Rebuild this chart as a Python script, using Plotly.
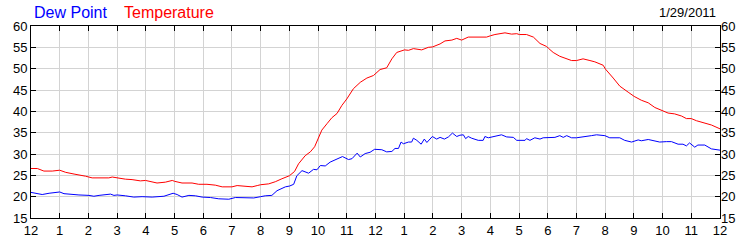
import plotly.graph_objects as go

# hours since midnight
temp_hours = [0.00, 0.22, 0.45, 0.74, 1.00, 1.21, 1.50, 1.73, 1.90, 2.13, 2.48, 2.71, 2.83, 3.00, 3.29, 3.52, 3.81, 3.99, 4.16, 4.39, 4.68, 4.92, 5.00, 5.26, 5.61, 5.84, 6.13, 6.42, 6.66, 7.00, 7.18, 7.47, 7.70, 7.88,
              8.00, 8.28, 8.51, 8.74, 9.00, 9.18, 9.32, 9.55, 9.73, 9.88, 10.02, 10.13, 10.31, 10.48, 10.66, 10.83, 11.00, 11.23, 11.47, 11.70, 11.93, 12.01, 12.16, 12.39, 12.57, 12.74, 13.01, 13.15, 13.32, 13.61, 13.84, 13.99, 14.25, 14.42, 14.66, 14.83, 15.00, 15.23, 15.47, 15.70, 15.87,
              16.00, 16.16, 16.51, 16.74, 16.92, 17.01, 17.26, 17.50, 17.73, 17.96, 18.02, 18.19, 18.42, 18.66, 18.83, 19.00, 19.23, 19.47, 19.64, 19.93, 20.01, 20.28, 20.51, 20.80, 21.01, 21.26, 21.50, 21.73, 21.99, 22.19, 22.42, 22.66, 22.83, 23.00, 23.18, 23.47, 23.70, 24.00]
temp_vals = [26.6, 26.6, 26.0, 26.0, 26.2, 25.7, 25.3, 25.1, 24.8, 24.4, 24.4, 24.4, 24.6, 24.4, 24.1, 24.0, 23.7, 23.8, 23.6, 23.2, 23.4, 23.8, 23.6, 23.2, 23.2, 22.9, 22.9, 22.7, 22.3, 22.3, 22.6, 22.5, 22.3, 22.6,
             22.8, 23.0, 23.5, 24.2, 24.9, 25.9, 27.7, 29.6, 30.5, 31.7, 33.8, 35.6, 37.1, 38.5, 39.5, 41.4, 42.9, 45.3, 46.8, 47.8, 48.4, 48.9, 49.8, 50.2, 52.3, 53.8, 54.4, 54.3, 54.7, 54.4, 55.0, 55.1, 55.8, 56.5, 56.7, 57.1, 56.7, 57.4, 57.4, 57.3, 57.4,
             57.7, 58.0, 58.4, 58.1, 58.2, 58.0, 58.0, 57.4, 55.9, 55.2, 54.8, 53.8, 52.9, 52.3, 51.9, 51.9, 52.3, 51.9, 51.6, 50.8, 49.9, 47.8, 45.9, 44.5, 43.5, 42.6, 42.0, 40.9, 40.2, 39.6, 39.4, 38.9, 38.3, 38.3, 37.8, 37.3, 36.8, 35.9]

dew_hours = [0.00, 0.22, 0.39, 0.63, 0.86, 1.00, 1.15, 1.44, 1.67, 2.02, 2.19, 2.37, 2.66, 2.77, 2.89, 3.00, 3.29, 3.58, 3.87, 4.22, 4.63, 4.80, 4.95, 5.09, 5.26, 5.50, 5.73, 5.96, 6.25, 6.54, 6.89, 7.12, 7.41, 7.76,
             8.00, 8.16, 8.39, 8.57, 8.86, 9.01, 9.15, 9.26, 9.44, 9.67, 9.84, 9.96, 10.08, 10.25, 10.42, 10.66, 10.85, 11.06, 11.18, 11.36, 11.47, 11.64, 11.81, 11.97, 12.22, 12.39, 12.57, 12.68, 12.80, 12.89, 12.97, 13.15, 13.26, 13.32, 13.44, 13.59, 13.70, 13.79, 13.98, 14.13, 14.25, 14.40, 14.54, 14.68, 14.83, 14.94, 15.06, 15.14, 15.23, 15.35, 15.58, 15.75, 15.81, 15.93,
             16.00, 16.16, 16.39, 16.57, 16.80, 16.92, 17.01, 17.21, 17.26, 17.38, 17.55, 17.73, 17.84, 18.02, 18.25, 18.42, 18.54, 18.66, 18.83, 19.00, 19.29, 19.52, 19.70, 19.99, 20.16, 20.51, 20.68, 20.92, 21.15, 21.26, 21.50, 21.73, 21.90, 22.13, 22.31, 22.54, 22.71, 22.83, 22.94, 23.12, 23.23, 23.47, 23.70, 24.00]
dew_vals = [21.0, 20.8, 20.5, 20.8, 20.9, 21.1, 20.7, 20.5, 20.4, 20.3, 20.1, 20.3, 20.4, 20.6, 20.3, 20.4, 20.2, 19.9, 20.0, 19.9, 20.1, 20.5, 20.8, 20.5, 19.9, 20.3, 20.2, 19.9, 19.8, 19.5, 19.4, 19.8, 19.7, 19.7,
            20.0, 20.2, 20.3, 21.4, 22.3, 22.5, 22.9, 24.9, 26.1, 25.5, 26.4, 26.3, 27.3, 27.2, 28.1, 28.8, 29.4, 28.7, 28.9, 30.2, 29.3, 30.1, 30.4, 31.1, 31.0, 30.5, 30.6, 31.3, 31.3, 32.8, 32.4, 32.8, 32.8, 33.7, 33.2, 32.3, 33.5, 32.7, 34.1, 33.5, 33.9, 33.5, 34.0, 34.9, 34.1, 34.4, 34.5, 33.6, 34.1, 33.7, 33.2, 33.2, 34.1, 33.8,
            33.9, 34.1, 34.5, 34.0, 33.9, 33.2, 33.2, 33.2, 33.6, 33.2, 33.8, 33.5, 33.8, 33.9, 33.9, 34.3, 33.9, 34.3, 33.8, 33.8, 34.0, 34.3, 34.5, 34.3, 33.8, 33.8, 33.2, 32.8, 33.3, 33.1, 33.4, 33.1, 32.8, 32.9, 32.9, 32.3, 32.3, 31.9, 32.6, 31.6, 32.1, 32.1, 31.2, 30.9]

x_tickvals = list(range(0, 25))
x_ticktext = ["12", "1", "2", "3", "4", "5", "6", "7", "8", "9", "10", "11",
              "12", "1", "2", "3", "4", "5", "6", "7", "8", "9", "10", "11", "12"]
y_tickvals = [15, 20, 25, 30, 35, 40, 45, 50, 55, 60]
date_label = "1/29/2011"
series_names = ["Dew Point", "Temperature"]

FONT = "Arial, Liberation Sans, sans-serif"
TXT = "#000000"
GRID = "#d3d3d3"
TICK_SIZE = 13

fig = go.Figure()
fig.add_trace(go.Scatter(x=dew_hours, y=dew_vals, mode="lines", name=series_names[0],
                         line=dict(color="#0000ff", width=1), hoverinfo="skip"))
fig.add_trace(go.Scatter(x=temp_hours, y=temp_vals, mode="lines", name=series_names[1],
                         line=dict(color="#ff0000", width=1), hoverinfo="skip"))
# invisible trace to activate right-hand axis
fig.add_trace(go.Scatter(x=[0], y=[15], yaxis="y2", mode="markers",
                         marker=dict(opacity=0), showlegend=False, hoverinfo="skip"))

fig.update_layout(
    width=750, height=250,
    margin=dict(l=31, r=30, t=26, b=26),
    paper_bgcolor="white", plot_bgcolor="white",
    showlegend=False,
    font=dict(family=FONT, size=TICK_SIZE, color=TXT),
    xaxis=dict(range=[0, 24], tickvals=x_tickvals, ticktext=x_ticktext,
               showgrid=True, gridcolor=GRID, gridwidth=1,
               showline=True, linecolor="black", linewidth=1, mirror="ticks",
               ticks="inside", ticklen=5, tickcolor="black",
               tickfont=dict(family=FONT, size=TICK_SIZE, color=TXT),
               zeroline=False, fixedrange=True),
    yaxis=dict(range=[15, 60], tickvals=y_tickvals,
               showgrid=True, gridcolor=GRID, gridwidth=1,
               showline=True, linecolor="black", linewidth=1, mirror="ticks",
               ticks="inside", ticklen=5, tickcolor="black",
               tickfont=dict(family=FONT, size=TICK_SIZE, color=TXT),
               zeroline=False, fixedrange=True),
    yaxis2=dict(range=[15, 60], tickvals=y_tickvals, overlaying="y", side="right",
                showgrid=False, showline=False, ticks="",
                tickfont=dict(family=FONT, size=TICK_SIZE, color=TXT),
                zeroline=False, fixedrange=True),
)

fig.add_annotation(text=series_names[0], xref="paper", yref="paper", x=0.002, y=1.0,
                   xanchor="left", yanchor="bottom", showarrow=False,
                   font=dict(family=FONT, size=16, color="#0000ff"), yshift=3)
fig.add_annotation(text=series_names[1], xref="paper", yref="paper", x=0.132, y=1.0,
                   xanchor="left", yanchor="bottom", showarrow=False,
                   font=dict(family=FONT, size=16, color="#ff0000"), yshift=3)
fig.add_annotation(text=date_label, xref="paper", yref="paper", x=0.997, y=1.0,
                   xanchor="right", yanchor="bottom", showarrow=False,
                   font=dict(family=FONT, size=TICK_SIZE, color=TXT), yshift=4)

fig.write_html("out.html", config={"displayModeBar": False})
